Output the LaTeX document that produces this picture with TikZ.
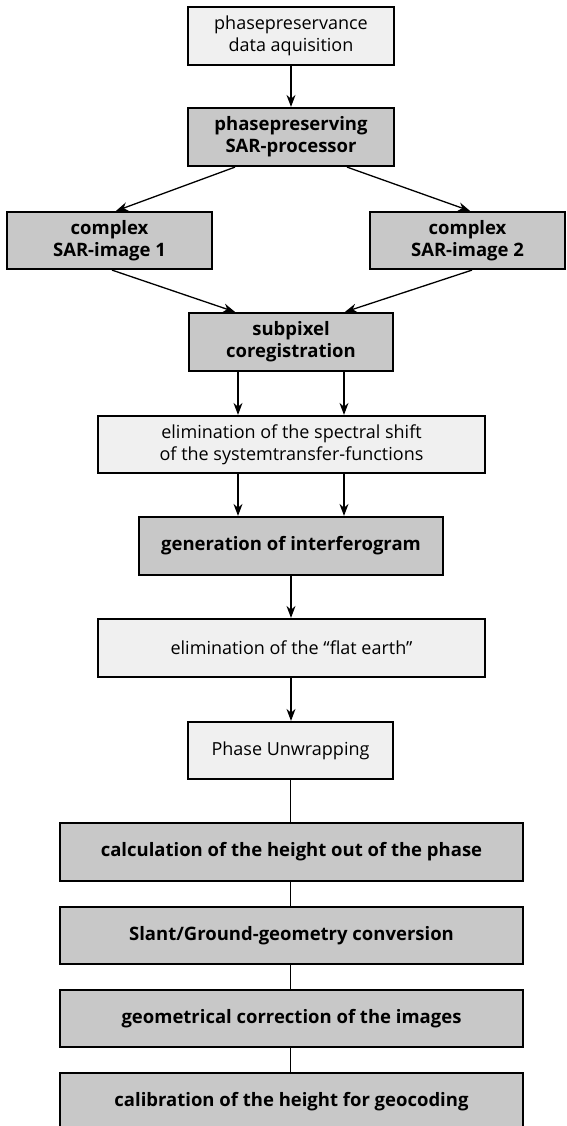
\documentclass[tikz,border=0pt]{standalone}
\usepackage{fontspec}
\setmainfont{Open Sans}
\usepackage{xcolor}
\usetikzlibrary{arrows.meta}
\definecolor{lightbox}{HTML}{F0F0F0}
\definecolor{darkbox}{HTML}{C8C8C8}

\begin{document}
\begin{tikzpicture}[x=1pt,y=-1pt,
	plain/.style={draw,line width=2.2pt,fill=lightbox,align=center,inner sep=0pt,font=\fontsize{18}{22}\selectfont},
	bold/.style={plain,fill=darkbox,font=\fontsize{18.5}{22}\selectfont\bfseries},
	arr/.style={-{Stealth[length=12pt,width=9pt]},line width=1.3pt},
	link/.style={line width=1.3pt}]
	\useasboundingbox (0,0) rectangle (567,1126);
	% processing chain, top part
	\node[plain,minimum width=206pt,minimum height=58pt] (acq) at (291,36) {phasepreservance\\data aquisition};
	\node[bold,minimum width=206pt,minimum height=58pt] (proc) at (291,137) {phasepreserving\\SAR-processor};
	\node[bold,minimum width=205pt,minimum height=57pt] (imgA) at (109.5,240.5) {complex\\SAR-image 1};
	\node[bold,minimum width=195pt,minimum height=57pt] (imgB) at (467.5,240.5) {complex\\SAR-image 2};
	\node[bold,minimum width=204pt,minimum height=58pt] (coreg) at (291,342) {subpixel\\coregistration};
	\node[plain,minimum width=387pt,minimum height=57pt] (shift) at (291.5,444.5) {elimination of the spectral shift\\of the systemtransfer-functions};
	\node[bold,minimum width=304pt,minimum height=58pt] (ifg) at (291,546) {generation of interferogram};
	\node[plain,minimum width=387pt,minimum height=58pt] (flat) at (291.5,648) {elimination of the \textquotedblleft flat earth\textquotedblright};
	\node[plain,minimum width=205pt,minimum height=57pt] (unwrap) at (290.5,750.5) {Phase Unwrapping};
	% height chain, bottom part
	\node[bold,minimum width=463pt,minimum height=58pt] (height) at (291.5,852) {calculation of the height out of the phase};
	\node[bold,minimum width=463pt,minimum height=57pt] (slant) at (291.5,935.5) {Slant/Ground-geometry conversion};
	\node[bold,minimum width=463pt,minimum height=57pt] (geocorr) at (291.5,1018.5) {geometrical correction of the images};
	\node[bold,minimum width=463pt,minimum height=57pt] (calib) at (291.5,1101.5) {calibration of the height for geocoding};

	\draw[arr] (acq) -- (proc);
	\draw[arr] ([xshift=-56pt]proc.south) -- ([xshift=6.5pt]imgA.north);
	\draw[arr] ([xshift=56pt]proc.south) -- ([xshift=2.5pt]imgB.north);
	\draw[arr] ([xshift=2.5pt]imgA.south) -- ([xshift=-56pt]coreg.north);
	\draw[arr] ([xshift=4.5pt]imgB.south) -- ([xshift=54pt]coreg.north);
	\foreach \dx in {-53,53}{
		\draw[arr] ([xshift=\dx pt]coreg.south) -- ([xshift=\dx pt]coreg.south |- shift.north);
		\draw[arr] ([xshift=\dx pt]coreg.south |- shift.south) -- ([xshift=\dx pt]coreg.south |- ifg.north);
	}
	\draw[arr] (ifg) -- (ifg.south |- flat.north);
	\draw[arr] (ifg.south |- flat.south) -- (ifg.south |- unwrap.north);
	\draw[link] (unwrap) -- (unwrap.south |- height.north);
	\draw[link] (unwrap.south |- height.south) -- (unwrap.south |- slant.north);
	\draw[link] (unwrap.south |- slant.south) -- (unwrap.south |- geocorr.north);
	\draw[link] (unwrap.south |- geocorr.south) -- (unwrap.south |- calib.north);
\end{tikzpicture}
\end{document}
